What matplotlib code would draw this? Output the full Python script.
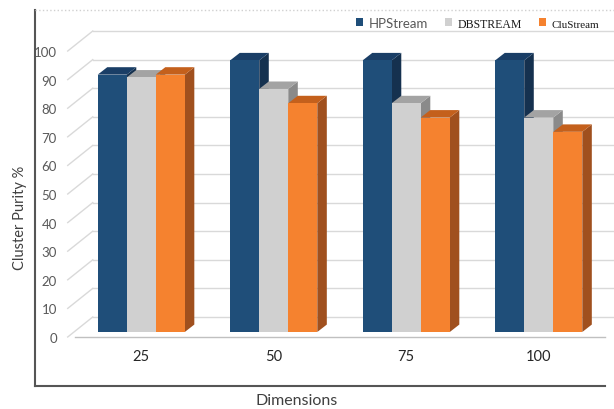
import numpy as np
import matplotlib
matplotlib.use("Agg")
import matplotlib.pyplot as plt
from matplotlib.patches import Polygon
from matplotlib.lines import Line2D

# data
dimensions = ['25', '50', '75', '100']
hpstream = [90, 95, 95, 95]
dbstream = [89, 85, 80, 75]
clustream = [90, 80, 75, 70]

series = [('HPStream', hpstream, '#1f4e79', '#1a3e66', '#15314f'),
          ('DBSTREAM', dbstream, '#d0d0d0', '#a3a3a3', '#8a8a8a'),
          ('CluStream', clustream, '#f5822f', '#c4601c', '#a0501e')]

plt.rcParams['font.family'] = ['Lato', 'DejaVu Sans']

fig = plt.figure(figsize=(6.14, 4.10), dpi=100)
ax = fig.add_axes([75 / 614, 72 / 410, 530 / 614, 328 / 410])
ax.set_xlim(-0.5, 3.5)
ax.set_ylim(0, 114.7)
for s in ax.spines.values():
    s.set_visible(False)

# pseudo 3d geometry (data units)
wall_dx, wall_dy = 0.189, 7.0
left_x = -0.555
right_x = 3.56
lift = 1.75
bar_w = 0.219
ddx, ddy = 0.072, 2.6

# back wall grid and left wall diagonals
for v in range(0, 101, 10):
    ax.plot([left_x + wall_dx, right_x], [v + wall_dy, v + wall_dy],
            color='#d9d9d9', lw=1, clip_on=False, zorder=1)
    ax.plot([left_x, left_x + wall_dx], [v, v + wall_dy],
            color='#d9d9d9', lw=1, clip_on=False, zorder=1)
ax.plot([-0.5, 3.5], [0, 0], color='#c0c0c0', lw=1, clip_on=False, zorder=1)

x = np.arange(len(dimensions))
handles = []
for j, (name, vals, front, top, side) in enumerate(series):
    z = 3 + j * 0.1
    bars = ax.bar(x + (j - 1) * bar_w, vals, bar_w, bottom=lift, color=front,
                  edgecolor='none', label=name, zorder=z + 0.05)
    handles.append(bars)
    for r in bars:
        x0, w = r.get_x(), r.get_width()
        y0, y1 = lift, lift + r.get_height()
        ax.add_patch(Polygon([(x0 + w, y0), (x0 + w + ddx, y0 + ddy),
                              (x0 + w + ddx, y1 + ddy), (x0 + w, y1)],
                             closed=True, facecolor=side, edgecolor='none', zorder=z))
        ax.add_patch(Polygon([(x0, y1), (x0 + ddx, y1 + ddy),
                              (x0 + w + ddx, y1 + ddy), (x0 + w, y1)],
                             closed=True, facecolor=top, edgecolor='none', zorder=z))

ax.set_yticks(range(0, 101, 10))
ax.set_xticks(x)
ax.set_xticklabels(dimensions)
ax.tick_params(axis='y', length=0, pad=13, labelsize=9.5, labelcolor='#595959')
ax.tick_params(axis='x', length=0, pad=9, labelsize=10.5, labelcolor='#262626')

ax.set_ylabel('Cluster Purity %', fontsize=10.5, color='#404040')
ax.yaxis.set_label_coords(-0.09, 0.366)
ax.set_xlabel('Dimensions', fontsize=11.5, color='#404040')
ax.xaxis.set_label_coords(0.419, -0.172)

leg = fig.legend(handles=handles, loc='center right', bbox_to_anchor=(0.995, 1 - 24 / 410),
                 ncol=3, frameon=False, handlelength=0.55, handleheight=0.55,
                 handletextpad=0.4, columnspacing=1.3, fontsize=9.5)
t = leg.get_texts()
t[0].set_color('#595959')
t[1].set_fontfamily('Liberation Serif')
t[1].set_fontsize(8.5)
t[1].set_color('#1a1a1a')
t[2].set_fontfamily('Liberation Serif')
t[2].set_fontsize(8)
t[2].set_color('#1a1a1a')

# chart frame
fig.add_artist(Line2D([35 / 614, 35 / 614], [1 - 11 / 410, 1 - 387 / 410],
                      transform=fig.transFigure, color='#555555', lw=1.5))
fig.add_artist(Line2D([35 / 614, 605 / 614], [1 - 387 / 410, 1 - 387 / 410],
                      transform=fig.transFigure, color='#555555', lw=1.5))
fig.add_artist(Line2D([35 / 614, 1.0], [1 - 11 / 410, 1 - 11 / 410],
                      transform=fig.transFigure, color='#d0d0d0', lw=1, ls=':'))

fig.savefig('out.png', dpi=100)
